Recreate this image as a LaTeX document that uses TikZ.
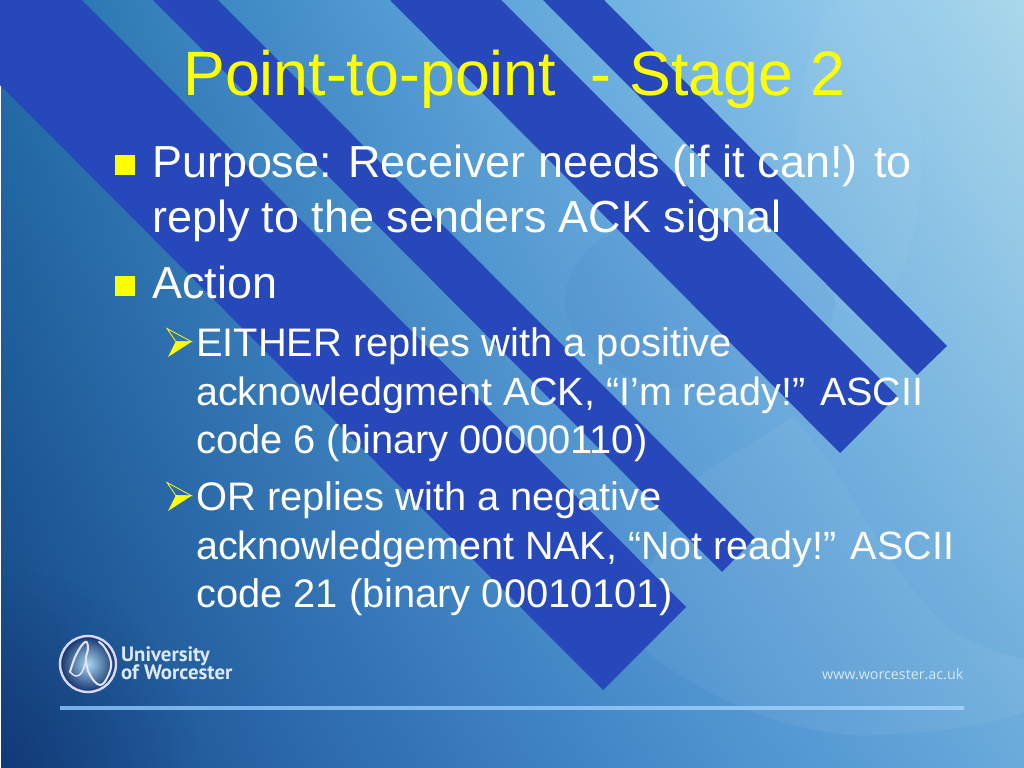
\documentclass[tikz,border=0pt]{standalone}
\usepackage{fontspec}
\setmainfont{Liberation Sans}
\newfontfamily\logofont{PT Sans}
\newfontfamily\urlfont{Open Sans}
\usetikzlibrary{fadings}
\definecolor{stripe}{RGB}{38,72,186}
\definecolor{bulletyellow}{RGB}{255,255,0}
\definecolor{logotext}{RGB}{222,232,242}
\definecolor{urltext}{RGB}{215,232,245}
\definecolor{cornerdark}{RGB}{10,35,95}
\definecolor{logolight}{RGB}{170,215,240}
\definecolor{logodark}{RGB}{18,50,110}
\pgfdeclarefunctionalshading{slidebg}{\pgfpointorigin}{\pgfpoint{100bp}{100bp}}{}{
100 div 0.25 sub 2 mul exch 100 div 0.25 sub 2 mul exch
1 index 0.326 mul 1 index 0.055 mul add 2 index 2 index mul 0.20 mul add 2 index dup 1 exch sub mul -0.07 mul add 0.086 add 3 1 roll
1 index 0.392 mul 1 index 0.157 mul add 2 index 2 index mul 0.02 mul add 2 index dup 1 exch sub mul 0.08 mul add 0.275 add 3 1 roll
1 index 0.345 mul 1 index 0.157 mul add 2 index 2 index mul -0.092 mul add 2 index dup 1 exch sub mul 0.26 mul add 0.51 add 3 1 roll pop pop
}
\pgfdeclarehorizontalshading{footline}{100bp}{rgb(0bp)=(0.40,0.64,0.88);rgb(50bp)=(0.52,0.74,0.94);rgb(100bp)=(0.72,0.86,0.98)}
\tikzfading[name=cornerfade, inner color=transparent!0, outer color=transparent!100]
\tikzset{
  stripeshape/.style={fill=stripe},
  titletext/.style={anchor=base west,text=bulletyellow,inner sep=0pt,font=\fontsize{62.7bp}{62.7bp}\selectfont},
  bodytext/.style={anchor=base west,text=white,inner sep=0pt,font=\fontsize{44.9bp}{44.9bp}\selectfont},
  subtext/.style={anchor=base west,text=white,inner sep=0pt,font=\fontsize{39.85bp}{39.85bp}\selectfont},
  subtextnarrow/.style={anchor=base west,text=white,inner sep=0pt,font=\fontsize{39.45bp}{39.45bp}\selectfont},
  squarebullet/.style={fill=bulletyellow},
  logoword/.style={anchor=base west,text=logotext,inner sep=0pt,font=\logofont\bfseries\fontsize{20.8bp}{20.8bp}\selectfont},
  swirl/.style={fill=white,fill opacity=0.05}
}
\newcommand{\arrowbullet}[1]{%
  \begin{scope}[shift={(0,#1)}]
    \draw[bulletyellow,line width=0.8bp,line join=miter] (167,328.5) -- (191.5,341.7) -- (176,341.7) -- cycle;
    \fill[bulletyellow] (168,357) -- (191.7,341.7) -- (176,341.2) -- cycle;
  \end{scope}}
\begin{document}
\begin{tikzpicture}[x=1bp,y=-1bp]
\useasboundingbox (0,0) rectangle (1024,768);
\fill[white] (0,0) rectangle (1024,768);
\begin{scope}
  \clip (1,1) rectangle (1024,768);
  \shade[shading=slidebg] (1,1) rectangle (1024,768);
  \fill[cornerdark,opacity=0.35,path fading=cornerfade] (0,768) circle [radius=200bp];
  % background swirls
  \fill[swirl] (620,630) .. controls (700,700) and (800,740) .. (880,735) .. controls (950,732) and (1000,722) .. (1024,712) -- (1024,660) .. controls (990,650) and (960,640) .. (940,620) .. controls (880,560) and (850,480) .. (793,417) .. controls (760,440) and (720,460) .. (697,478) .. controls (660,540) and (640,590) .. (620,630) -- cycle;
  \fill[white,opacity=0.035] (860,150) ellipse [x radius=62bp,y radius=165bp];
  \fill[black!30!blue,opacity=0.03] (700,300) ellipse [x radius=135bp,y radius=90bp];
\end{scope}
% diagonal stripes
\fill[stripeshape] (0,0) -- (82,0) -- (686,607) -- (603,690) -- (0,85) -- cycle;
\fill[stripeshape] (153,0) -- (218,0) -- (755,538) -- (722,572) -- cycle;
\fill[stripeshape] (390,0) -- (501,0) -- (897,396) -- (840,453) -- cycle;
\fill[stripeshape] (543,0) -- (604,0) -- (947,346) -- (917,375) -- cycle;
% title
\node[titletext] (title) at (183,96) {Point-to-point\ \ - Stage 2};
% bullets
\fill[squarebullet] (115,155) rectangle (135,175);
\fill[squarebullet] (115,276) rectangle (135,296);
\arrowbullet{0}
\arrowbullet{154}
% body text
\node[bodytext] (b1) at (152,177) {Purpose: Receiver needs (if it can!) to};
\node[bodytext] (b2) at (152,232) {reply to the senders ACK signal};
\node[bodytext] (b3) at (152,298) {Action};
\node[subtext] (s1) at (196,356) {EITHER replies with a positive};
\node[subtextnarrow] (s2) at (196,405) {acknowledgment ACK, “I’m ready!” ASCII};
\node[subtext] (s3) at (196,453) {code 6 (binary 00000110)};
\node[subtext] (s4) at (196,510) {OR replies with a negative};
\node[subtextnarrow] (s5) at (196,559) {acknowledgement NAK, “Not ready!” ASCII};
\node[subtext] (s6) at (196,607) {code 21 (binary 00010101)};
% logo
\shade[inner color=logolight,outer color=logodark] (88,664) circle [radius=28bp];
\draw[white!85!blue,line width=2.4bp] (88,664) circle [radius=28bp];
\draw[white!90!blue,line width=2bp,line cap=round] plot[smooth,tension=0.7] coordinates {(70,672) (76,655) (85,642) (88,648) (86,660) (90,675) (100,685) (108,676) (111,662) (105,648) (99,642)};
\draw[white!90!blue,line width=1.4bp] plot[smooth,tension=0.7] coordinates {(70,672) (76,676) (82,672) (86,660)};
\node[logoword] (l1) at (121,661) {University};
\node[logoword] (l2) at (121,679) {of Worcester};
% url
\node[anchor=base west,text=urltext,inner sep=0pt,font=\urlfont\fontsize{14.3bp}{14.3bp}\selectfont] (url) at (822,679) {www.worcester.ac.uk};
% footer line
\shade[shading=footline] (60,706.8) rectangle (964,709.2);
\end{tikzpicture}
\end{document}
